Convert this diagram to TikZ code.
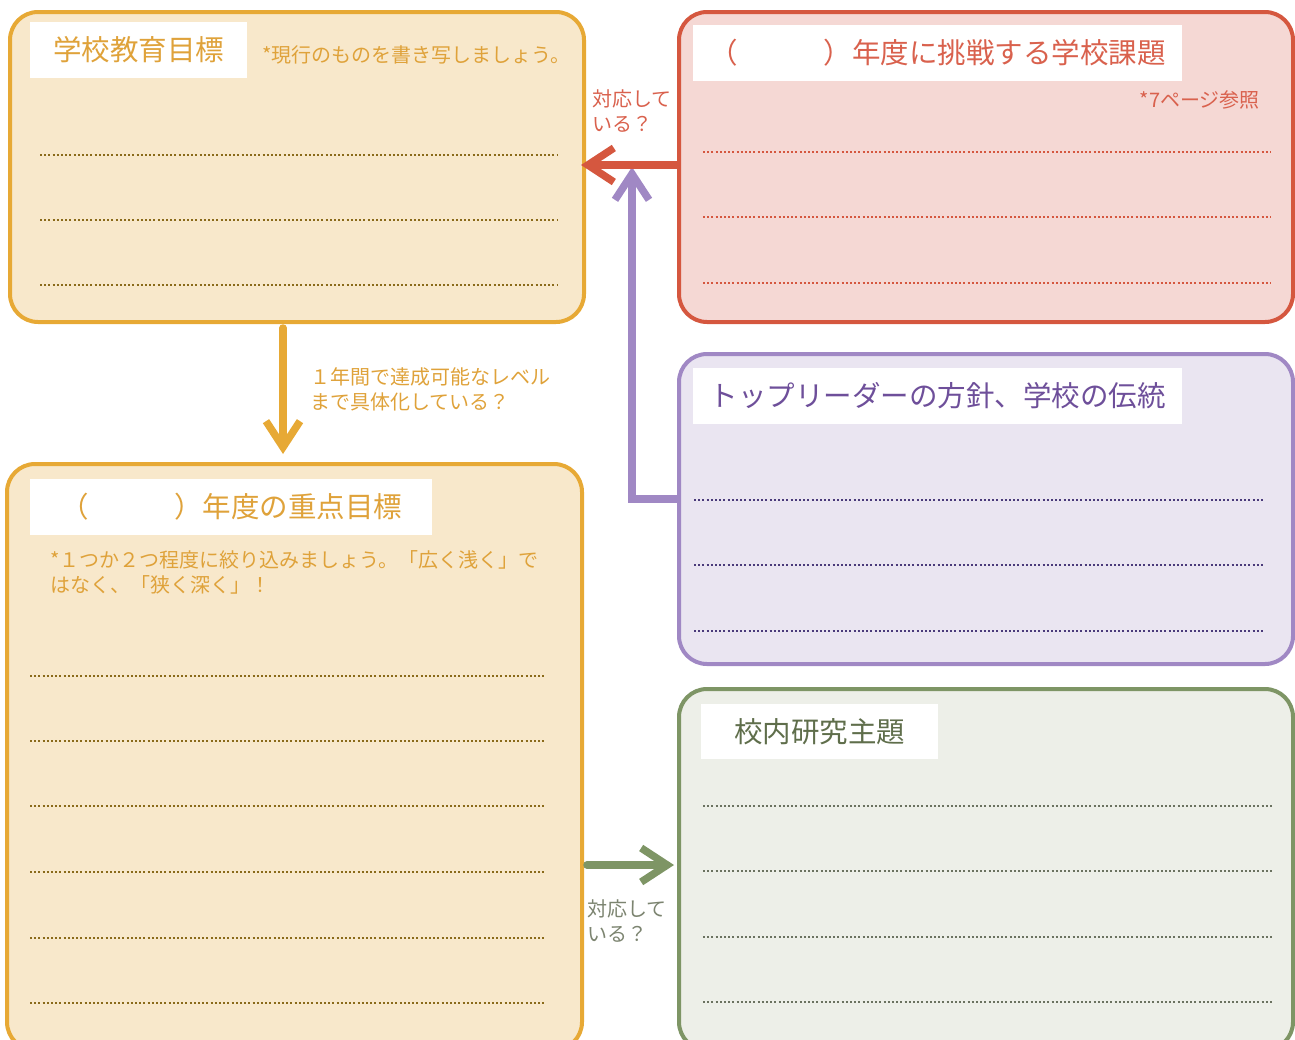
\documentclass[tikz,border=0pt]{standalone}
\usepackage{fontspec}
\newfontfamily\jp{Noto Sans CJK JP}
\usetikzlibrary{arrows.meta,calc}
\definecolor{orB}{HTML}{E7A935}
\definecolor{orF}{HTML}{F8E8CB}
\definecolor{orT}{HTML}{DFA23A}
\definecolor{orD}{HTML}{8A6A1A}
\definecolor{rdB}{HTML}{D5573F}
\definecolor{rdF}{HTML}{F5D8D4}
\definecolor{rdT}{HTML}{D9614D}
\definecolor{rdD}{HTML}{D5573F}
\definecolor{puB}{HTML}{A088C4}
\definecolor{puF}{HTML}{EAE5F1}
\definecolor{puT}{HTML}{6E4F9A}
\definecolor{puD}{HTML}{4A3A7A}
\definecolor{gnB}{HTML}{7E9565}
\definecolor{gnF}{HTML}{EDEFE8}
\definecolor{gnT}{HTML}{5F6E4B}
\definecolor{gnD}{HTML}{6B7260}
\definecolor{gnL}{HTML}{7C8470}
\begin{document}
\begin{tikzpicture}[x=1pt,y=-1pt,
  box/.style={draw, line width=4pt, rounded corners=28pt, anchor=north west, inner sep=0pt},
  hdr/.style={fill=white, inner sep=0pt, font=\jp\fontsize{28.5}{34}\selectfont},
  note/.style={inner sep=0pt, align=left, font=\jp\fontsize{20}{25}\selectfont},
  dotline/.style={line width=2pt, dash pattern=on 2pt off 2.2pt},
  arr/.style={line width=7.5pt, line cap=round, line join=round,
              -{Straight Barb[length=26pt,width=34pt]}}]
\useasboundingbox (0,0) rectangle (1295,1039);
\clip (0,0) rectangle (1295,1039);

% boxes
\node[box, draw=orB, fill=orF, minimum width=574pt, minimum height=310pt] (goal) at (8,10) {};
\node[box, draw=rdB, fill=rdF, minimum width=614pt, minimum height=310pt] (task) at (677,10) {};
\node[box, draw=puB, fill=puF, minimum width=614pt, minimum height=310pt] (lead) at (677,352) {};
\node[box, draw=gnB, fill=gnF, minimum width=614pt, minimum height=361pt] (res) at (677,687) {};
\node[box, draw=orB, fill=orF, minimum width=575pt, minimum height=586pt] (focus) at (5,462) {};

% headers
\node[hdr, text=orT, minimum width=217pt, minimum height=56pt] (goalh) at (138.5,50) {学校教育目標};
\node[hdr, text=rdT, minimum width=489pt, minimum height=56pt] (taskh) at (937.5,53) {（　　　）年度に挑戦する学校課題};
\node[hdr, text=puT, minimum width=489pt, minimum height=56pt] (leadh) at (937.5,396) {トップリーダーの方針、学校の伝統};
\node[hdr, text=gnT, minimum width=237pt, minimum height=55pt] (resh) at (819.5,731.5) {校内研究主題};
\node[hdr, text=orT, minimum width=402pt, minimum height=56pt] (focush) at (231,507) {（　　　）年度の重点目標};

% notes
\node[note, text=orT, anchor=west] (goaln) at (262,55) {*現行のものを書き写しましょう。};
\node[note, text=rdT, anchor=east] (taskn) at (1260,100) {*7ページ参照};
\node[note, text=orT, anchor=north west] (focusn) at (50,550) {*１つか２つ程度に絞り込みましょう。「広く浅く」で\\はなく、「狭く深く」！};

% dotted lines
\foreach \y in {155,220,285} \draw[dotline, orD] (40,\y) -- (557,\y);
\foreach \y in {152,217,283} \draw[dotline, rdD] (703,\y) -- (1271,\y);
\foreach \y in {500,565,631} \draw[dotline, puD] (694,\y) -- (1264,\y);
\foreach \y in {806,871,937,1002} \draw[dotline, gnD] (703,\y) -- (1272,\y);
\foreach \y in {676,741,806,872,938,1003} \draw[dotline, orD] (30,\y) -- (546,\y);

% connectors
\coordinate (ra) at (0,165);
\coordinate (pa) at (632,499);
\coordinate (pt) at (632,167);
\coordinate (oa) at (283,0);
\coordinate (ga) at (0,865);
\draw[arr, puB, line cap=butt, line join=miter] (pa -| lead.west) -- (pa) -- (pt);
\draw[arr, rdB] (ra -| task.west) -- ($(ra -| goal.east)+(-5,0)$);
\draw[arr, orB] ($(oa |- goal.south)+(0,4)$) -- ($(oa |- focus.north)+(0,-8)$);
\draw[arr, gnB] ($(ga -| focus.east)+(3,0)$) -- ($(ga -| res.west)+(-3,0)$);

% labels
\node[note, text=rdT, anchor=north west] (lbl1) at (592,89) {対応して\\いる？};
\node[note, text=orT, anchor=north west] (lbl2) at (310,367) {１年間で達成可能なレベル\\まで具体化している？};
\node[note, text=gnL, anchor=north west] (lbl3) at (587,899) {対応して\\いる？};
\end{tikzpicture}
\end{document}
